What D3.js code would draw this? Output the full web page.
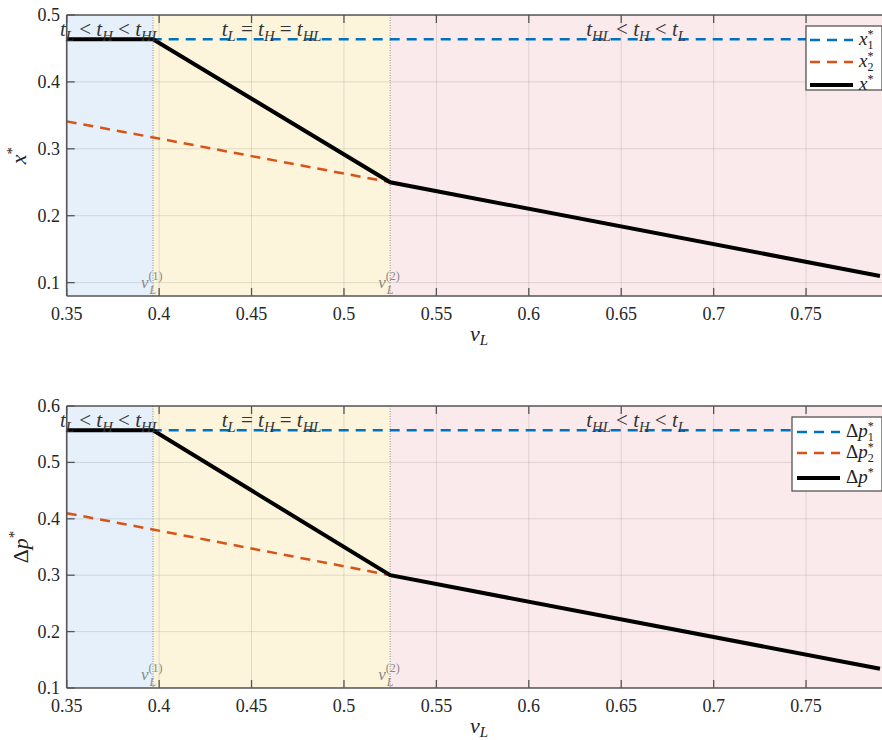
<!DOCTYPE html>
<html><head><meta charset="utf-8">
<script src="https://cdn.jsdelivr.net/npm/d3@7"></script>
<style>body{margin:0;background:#fff}svg{display:block}
text{font-family:"Liberation Serif","Times New Roman",Times,"DejaVu Serif","Noto Serif",serif}</style>
</head><body>
<script>
// ---------- data ----------
const vL = [0.35, 0.3967, 0.525, 0.79];          // breakpoints along v_L
const vL2pts = [0.35, 0.3967, 0.525];             // domain of the second (orange) branch
const vLThresholds = [0.3967, 0.525];             // v_L^(1), v_L^(2)
const thresholdNames = ["(1)", "(2)"];
const xStar1 = [0.4636, 0.4636, 0.4636, 0.4636];
const xStar2 = [0.341, 0.317, 0.25];
const xStar = [0.4636, 0.4636, 0.25, 0.11];
const dp1 = [0.557, 0.557, 0.557, 0.557];
const dp2 = [0.41, 0.381, 0.30];
const dpStar = [0.557, 0.557, 0.30, 0.134];
const xTicks = [0.35, 0.4, 0.45, 0.5, 0.55, 0.6, 0.65, 0.7, 0.75];
const xTickLabels = ["0.35", "0.4", "0.45", "0.5", "0.55", "0.6", "0.65", "0.7", "0.75"];
const yTicksTop = [0.1, 0.2, 0.3, 0.4, 0.5];
const yTicksBottom = [0.1, 0.2, 0.3, 0.4, 0.5, 0.6];
const regionLabels = [
  [["t","i"],["L","s"],[" < ","n"],["t","i"],["H","s"],[" < ","n"],["t","i"],["HL","s"]],
  [["t","i"],["L","s"],[" = ","n"],["t","i"],["H","s"],[" = ","n"],["t","i"],["HL","s"]],
  [["t","i"],["HL","s"],[" < ","n"],["t","i"],["H","s"],[" < ","n"],["t","i"],["L","s"]]
];
const regionColors = ["#e5f0fb", "#fcf5dc", "#fbeaec"];
const blue = "#0072BD", orange = "#D95319";

// ---------- drawing ----------
const W = 882, H = 740;
const svg = d3.select("body").append("svg").attr("width", W).attr("height", H);

function mathText(g, x, y, segs, size, anchor, fill) {
  const t = g.append("text").attr("x", x).attr("y", y)
    .attr("font-size", size)
    .attr("text-anchor", anchor).attr("fill", fill || "#222")
    .attr("xml:space", "preserve");
  let shifted = false;
  segs.forEach(([s, k]) => {
    const ts = t.append("tspan").text(s);
    if (k === "i") ts.attr("font-style", "italic");
    if (k === "s") {
      ts.attr("font-style", "italic").attr("font-size", size * 0.7);
      if (!shifted) { ts.attr("dy", size * 0.22); shifted = true; }
    } else if (shifted) { ts.attr("dy", -size * 0.22); shifted = false; }
  });
  return t;
}

function panel(cfg) {
  const g = svg.append("g");
  const x = d3.scaleLinear().domain([0.35, 0.79]).range([66.7, 880]);
  const y = d3.scaleLinear().domain(cfg.yDomain).range([cfg.bottom, cfg.top]);
  const x0 = x.range()[0], x1 = W + 5;
  const clipId = "clip" + cfg.id;
  svg.append("clipPath").attr("id", clipId).append("rect")
    .attr("x", x0).attr("y", cfg.top).attr("width", x1 - x0).attr("height", cfg.bottom - cfg.top);
  const pg = g.append("g").attr("clip-path", `url(#${clipId})`);
  // regions
  const bounds = [0.35, ...vLThresholds, 0.9];
  regionColors.forEach((c, i) => {
    pg.append("rect").attr("x", x(bounds[i])).attr("y", cfg.top)
      .attr("width", x(bounds[i + 1]) - x(bounds[i])).attr("height", cfg.bottom - cfg.top)
      .attr("fill", c);
  });
  // grid
  xTicks.forEach(t => pg.append("line").attr("x1", x(t)).attr("x2", x(t))
    .attr("y1", cfg.top).attr("y2", cfg.bottom).attr("stroke", "#000").attr("stroke-opacity", 0.11));
  cfg.yTicks.forEach(t => pg.append("line").attr("x1", x0).attr("x2", x1)
    .attr("y1", y(t)).attr("y2", y(t)).attr("stroke", "#000").attr("stroke-opacity", 0.11));
  // threshold lines
  vLThresholds.forEach(v => pg.append("line").attr("x1", x(v)).attr("x2", x(v))
    .attr("y1", cfg.top).attr("y2", cfg.bottom).attr("stroke", "#8a8a8a")
    .attr("stroke-width", 1).attr("stroke-dasharray", "1,1.5"));
  // lines
  const line = d3.line().x(d => x(d[0])).y(d => y(d[1]));
  const s1 = vL.map((v, i) => [v, cfg.s1[i]]); s1[s1.length - 1][0] = 0.8;
  pg.append("path").attr("d", line(s1)).attr("fill", "none").attr("stroke", blue)
    .attr("stroke-width", 2.5).attr("stroke-dasharray", "10,7");
  pg.append("path").attr("d", line(vL2pts.map((v, i) => [v, cfg.s2[i]]))).attr("fill", "none")
    .attr("stroke", orange).attr("stroke-width", 2.5).attr("stroke-dasharray", "10,7");
  pg.append("path").attr("d", line(vL.map((v, i) => [v, cfg.s[i]]))).attr("fill", "none")
    .attr("stroke", "#000").attr("stroke-width", 4);
  // axes frame
  [[x0, x1, cfg.bottom, cfg.bottom], [x0, x1, cfg.top, cfg.top], [x0, x0, cfg.top, cfg.bottom]]
    .forEach(([a, b, c, d]) => g.append("line").attr("x1", a).attr("x2", b).attr("y1", c).attr("y2", d)
      .attr("stroke", "#555").attr("stroke-width", 1.6));
  // ticks (inward)
  xTicks.forEach((t, i) => {
    g.append("line").attr("x1", x(t)).attr("x2", x(t)).attr("y1", cfg.bottom).attr("y2", cfg.bottom - 8)
      .attr("stroke", "#555").attr("stroke-width", 1.3);
    g.append("line").attr("x1", x(t)).attr("x2", x(t)).attr("y1", cfg.top).attr("y2", cfg.top + 8)
      .attr("stroke", "#555").attr("stroke-width", 1.3);
    g.append("text").attr("x", x(t)).attr("y", cfg.bottom + 24).attr("text-anchor", "middle")
      .attr("font-size", 18).attr("fill", "#262626").text(xTickLabels[i]);
  });
  cfg.yTicks.forEach(t => {
    g.append("line").attr("x1", x0).attr("x2", x0 + 8).attr("y1", y(t)).attr("y2", y(t))
      .attr("stroke", "#555").attr("stroke-width", 1.3);
    g.append("text").attr("x", 60).attr("y", y(t) + 6).attr("text-anchor", "end")
      .attr("font-size", 18).attr("fill", "#262626").text(String(t));
  });
  // region labels
  regionLabels.forEach((segs, i) => {
    const cx = (x(bounds[i]) + Math.min(x(bounds[i + 1]), W)) / 2;
    mathText(g, cx, cfg.top + 21, segs, 21, "middle", "#333");
  });
  // threshold labels (single text: v, superscript, subscript)
  vLThresholds.forEach((v, i) => {
    const t = g.append("text").attr("x", x(v) - 12).attr("y", cfg.bottom - 8)
      .attr("fill", "#888").attr("font-size", 17);
    t.append("tspan").attr("font-style", "italic").text("v");
    t.append("tspan").attr("font-size", 12).attr("dy", -8).text(thresholdNames[i]);
    t.append("tspan").attr("font-size", 12).attr("font-style", "italic")
      .attr("dx", -13).attr("dy", 14).text("L");
  });
  // x label
  g.append("text").attr("x", 470).attr("y", cfg.bottom + 45)
    .attr("font-style", "italic").attr("font-size", 22).attr("fill", "#222").text("v")
    .append("tspan").attr("font-size", 15).attr("dy", 4).text("L");
  // y label
  const yl = g.append("g").attr("transform", `translate(${cfg.ylx},${(cfg.top + cfg.bottom) / 2}) rotate(-90)`);
  const ylt = yl.append("text").attr("text-anchor", "middle")
    .attr("font-size", 22).attr("fill", "#222");
  cfg.ylabel.forEach(([s, k]) => {
    const ts = ylt.append("tspan").text(s);
    if (k === "i") ts.attr("font-style", "italic");
    if (k === "sup") ts.attr("font-size", 15).attr("dy", -9);
  });
  // legend
  const L = cfg.legend;
  g.append("rect").attr("x", L.x).attr("y", L.y).attr("width", L.w).attr("height", L.h)
    .attr("fill", "#fff").attr("stroke", "#555").attr("stroke-width", 1.3);
  const items = [
    { c: blue, dash: "10,7", w: 2.5, sub: "1" },
    { c: orange, dash: "10,7", w: 2.5, sub: "2" },
    { c: "#000", dash: null, w: 4, sub: null }
  ];
  items.forEach((it, i) => {
    const yy = L.rows[i];
    const ln = g.append("line").attr("x1", L.lx1).attr("x2", L.lx2).attr("y1", yy).attr("y2", yy)
      .attr("stroke", it.c).attr("stroke-width", it.w);
    if (it.dash) ln.attr("stroke-dasharray", it.dash);
    const t = g.append("text").attr("x", L.bx).attr("y", yy + 5)
      .attr("font-size", 19).attr("fill", "#222");
    L.base.forEach(([s, k]) => {
      const ts = t.append("tspan").text(s);
      if (k === "i") ts.attr("font-style", "italic");
    });
    t.append("tspan").attr("font-size", 12).attr("dy", -7).text("*");
    if (it.sub) t.append("tspan").attr("font-size", 12).attr("dx", -6).attr("dy", 11).text(it.sub);
  });
}

panel({
  id: 1, top: 15, bottom: 296, yDomain: [0.08, 0.5], yTicks: yTicksTop,
  s1: xStar1, s2: xStar2, s: xStar,
  ylabel: [["x", "i"], ["*", "sup"]], ylx: 26,
  legend: { x: 806, y: 26, w: 76, h: 64, rows: [40, 62, 85], lx1: 810, lx2: 853, bx: 859,
            base: [["x", "i"]] }
});
panel({
  id: 2, top: 406, bottom: 688, yDomain: [0.1, 0.6], yTicks: yTicksBottom,
  s1: dp1, s2: dp2, s: dpStar,
  ylabel: [["Δ", "n"], ["p", "i"], ["*", "sup"]], ylx: 28,
  legend: { x: 792, y: 417, w: 90, h: 74, rows: [432, 453, 478], lx1: 797, lx2: 840, bx: 846,
            base: [["Δ", "n"], ["p", "i"]] }
});
</script>
</body></html>
